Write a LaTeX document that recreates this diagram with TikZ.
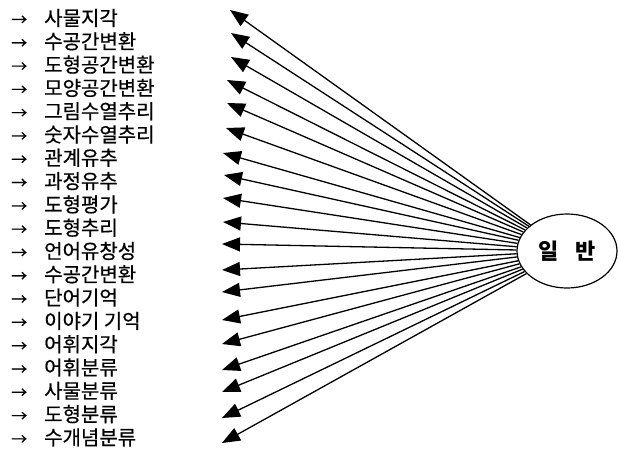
\documentclass[tikz,border=0pt]{standalone}
\usepackage{fontspec}
\newfontfamily\kr[FakeBold=0.6]{Noto Sans CJK KR}
\newfontfamily\krb{Noto Sans CJK KR}
\usetikzlibrary{arrows.meta,shapes.geometric}
\tikzset{
  lbl/.style={anchor=west,inner sep=0pt,font=\kr\fontsize{20}{22}\selectfont},
  gen/.style={draw,line width=1.2pt,ellipse,minimum width=100pt,minimum height=74pt,inner sep=0pt,font=\krb\bfseries\fontsize{22}{24}\selectfont},
  link/.style={line width=1.3pt,-{Triangle[length=18pt,width=14pt]}}
}
\begin{document}
\begin{tikzpicture}[x=1pt,y=-1pt]
\useasboundingbox (0,0) rectangle (618,456);
\node[gen] (g) at (567,251) {일\hspace{16pt}반};
\foreach \i/\ly/\tx/\ty/\t in {
 1/18/230/10/사물지각,
 2/41.3/231/33/수공간변환,
 3/64.6/231/57/도형공간변환,
 4/87.9/227/80/모양공간변환,
 5/111.2/227/103/그림수열추리,
 6/134.5/226/128/숫자수열추리,
 7/157.8/223/153/관계유추,
 8/181.1/224/175/과정유추,
 9/204.4/223/198/도형평가,
 10/227.7/223/222/도형추리,
 11/251/222/244/언어유창성,
 12/274.3/222/270/수공간변환,
 13/297.6/222/292/단어기억,
 14/320.9/222/320/이야기 기억,
 15/344.2/222/344/어휘지각,
 16/367.5/222/370/어휘분류,
 17/390.8/222/392/사물분류,
 18/414.1/222/418/도형분류,
 19/437.4/222/443/수개념분류}{
  \node[lbl] (l\i) at (11,\ly) {\makebox[33pt][l]{\fontsize{16}{18}\selectfont →}\t};
  \coordinate (t\i) at (\tx,\ty);
  \draw[link] (g) -- (t\i);
}
\end{tikzpicture}
\end{document}
